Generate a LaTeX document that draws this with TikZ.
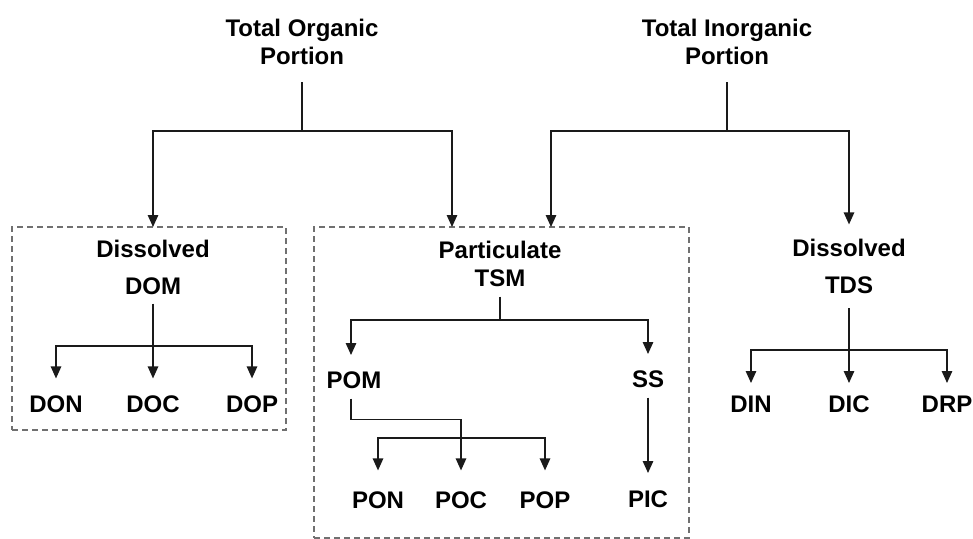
\documentclass[tikz,border=0pt]{standalone}
\usepackage{fontspec}
\setmainfont{Liberation Sans}
\usetikzlibrary{arrows.meta,calc}
\definecolor{lncol}{HTML}{1A1A1A}
\definecolor{dashcol}{HTML}{707070}
\begin{document}
\begin{tikzpicture}[x=1pt,y=-1pt,
  lbl/.style={inner sep=0pt,outer sep=0pt,text height=17.2pt,text depth=0pt,
    font=\fontsize{24}{28}\selectfont\bfseries},
  lbltwo/.style={inner sep=0pt,outer sep=0pt,align=center,anchor=south,
    font=\fontsize{24}{28}\selectfont\bfseries},
  dbox/.style={draw=dashcol,line width=1.4pt,dash pattern=on 6pt off 4pt,
    rectangle,inner sep=0pt,outer sep=0pt},
  conn/.style={draw=lncol,line width=1.3pt},
  arr/.style={conn,-{Triangle[length=12pt,width=10.5pt]}},
  arrtwo/.style={conn,{Triangle[length=12pt,width=10.5pt]}-{Triangle[length=12pt,width=10.5pt]}}
]
\useasboundingbox (0,0) rectangle (973,538);
\clip (0,0) rectangle (973,538);

% dashed boxes
\node[dbox,minimum width=274pt,minimum height=203pt] (boxL) at (149,328.5) {};
\node[dbox,minimum width=375pt,minimum height=311pt] (boxM) at (501.5,382.5) {};

% top labels
\node[lbltwo] (TOP) at (302,65) {Total Organic\\Portion};
\node[lbltwo] (TIP) at (727,65) {Total Inorganic\\Portion};

% second level
\node[lbl] (DisL) at (153,249) {Dissolved};
\node[lbl] (DOM) at (153,286) {DOM};
\node[lbl] (Part) at (500,250) {Particulate};
\node[lbl] (TSM) at (500,278) {TSM};
\node[lbl] (DisR) at (849,248) {Dissolved};
\node[lbl] (TDS) at (849,285) {TDS};

% leaves
\node[lbl] (DON) at (56,404) {DON};
\node[lbl] (DOC) at (153,404) {DOC};
\node[lbl] (DOP) at (252,404) {DOP};
\node[lbl] (POM) at (354,380) {POM};
\node[lbl] (SS) at (648,379) {SS};
\node[lbl] (PON) at (378,500) {PON};
\node[lbl] (POC) at (461,500) {POC};
\node[lbl] (POP) at (545,500) {POP};
\node[lbl] (PIC) at (648,499) {PIC};
\node[lbl] (DIN) at (751,404) {DIN};
\node[lbl] (DIC) at (849,404) {DIC};
\node[lbl] (DRP) at (947,404) {DRP};

% organic branches
\draw[conn] ($(TOP.south)+(0,17)$) -- ($(TOP.south)+(0,66)$) coordinate (ob);
\draw[arr] (ob) -| (DisL |- boxL.north);
\draw[arr] (ob) -| ($(boxM.north)+(-49.5,0)$);

% inorganic branches
\draw[conn] ($(TIP.south)+(0,17)$) -- ($(TIP.south)+(0,66)$) coordinate (ib);
\draw[arr] (ib) -| ($(boxM.north)+(49.5,0)$);
\draw[arr] (ib) -| ($(DisR.north)+(0,-15)$);

% DOM
\draw[arr] ($(DOM.south)+(0,9)$) -- ($(DOC.north)+(0,-17)$);
\coordinate (dr) at ($(DOM.south)+(0,51.4)$);
\draw[arr] (dr) -| ($(DON.north)+(0,-17)$);
\draw[arr] (dr) -| ($(DOP.north)+(0,-17)$);

% TSM
\draw[conn] ($(TSM.south)+(0,10)$) -- ($(TSM.south)+(0,33.4)$) coordinate (tr);
\draw[arr] (tr) -| ($(POM.north)+(-3,-16.4)$);
\draw[arr] (tr) -| ($(SS.north)+(0,-16.4)$);

% POM
\draw[arr] ($(POM.south)+(-3,10)$) -- ($(POM.south)+(-3,31)$) -| ($(POC.north)+(0,-21)$);
\draw[arrtwo] ($(PON.north)+(0,-21)$) |- ($(POP.north)+(0,-53.4)$) -- ($(POP.north)+(0,-21)$);

% SS
\draw[arr] ($(SS.south)+(0,10)$) -- ($(PIC.north)+(0,-17.4)$);

% TDS
\draw[arr] ($(TDS.south)+(0,14.4)$) -- ($(DIC.north)+(0,-12.4)$);
\coordinate (sr) at ($(TDS.south)+(0,56.4)$);
\draw[arr] (sr) -| ($(DIN.north)+(0,-12.4)$);
\draw[arr] (sr) -| ($(DRP.north)+(0,-12.4)$);
\end{tikzpicture}
\end{document}
